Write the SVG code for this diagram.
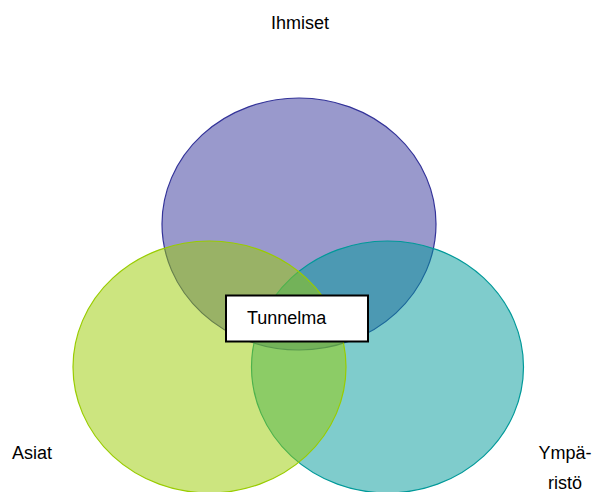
<svg xmlns="http://www.w3.org/2000/svg" width="595" height="492" viewBox="0 0 595 492">
<style>
  .lbl { font-family: "Liberation Sans", Arial, sans-serif; font-size: 18px; fill: #000; }
  .c { stroke-width: 1.2; fill-opacity: 0.5; }
</style>
<rect width="595" height="492" fill="#fff"/>
<g id="ihmiset">
  <ellipse class="c" cx="299" cy="224" rx="137" ry="126" fill="#333399" stroke="#333399"/>
  <text class="lbl" x="300" y="29" text-anchor="middle">Ihmiset</text>
</g>
<g id="ymparisto">
  <ellipse class="c" cx="387.5" cy="367" rx="136" ry="126" fill="#009999" stroke="#009999"/>
  <text class="lbl" x="565" y="459" text-anchor="middle">Ympä-</text>
  <text class="lbl" x="565" y="489" text-anchor="middle">ristö</text>
</g>
<g id="asiat">
  <ellipse class="c" cx="209.5" cy="367" rx="136.5" ry="126" fill="#99cc00" stroke="#99cc00"/>
  <text class="lbl" x="12" y="459">Asiat</text>
</g>
<g id="tunnelma">
  <rect x="226" y="295.5" width="142" height="46" fill="#fff" stroke="#000" stroke-width="2"/>
  <text class="lbl" x="247" y="324">Tunnelma</text>
</g>
<g id="connectors"></g>
</svg>
